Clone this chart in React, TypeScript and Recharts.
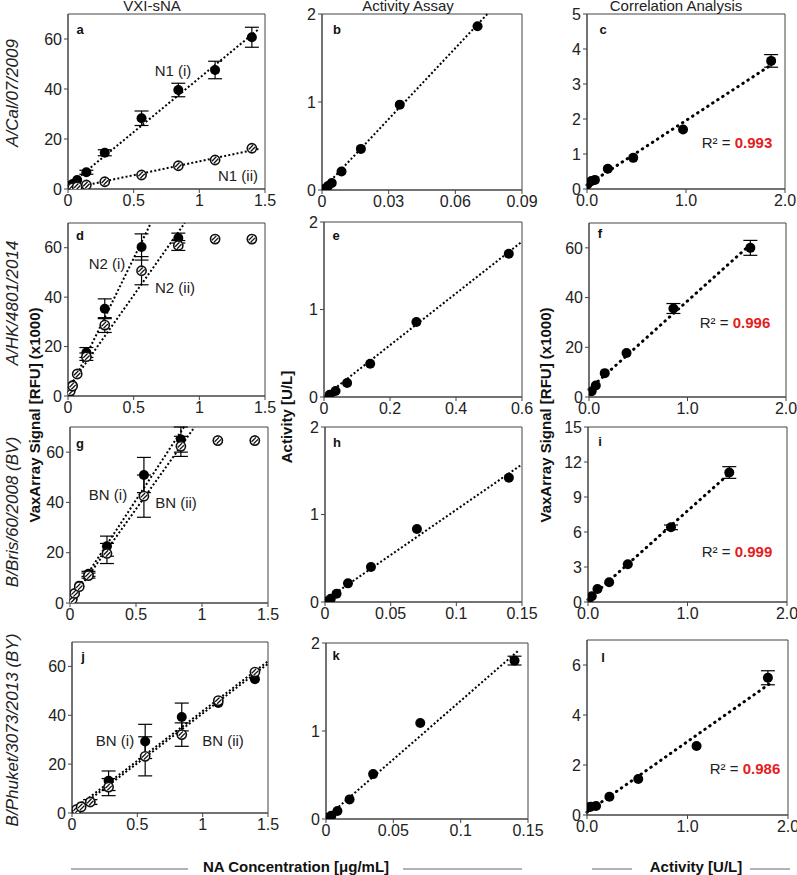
import React from "react";
import { ScatterChart, Scatter, XAxis, YAxis, ErrorBar, ReferenceLine, ReferenceArea } from "recharts";

const FONT = '"Liberation Sans", Arial, sans-serif';

// NA concentration series (ug/mL) used on the VXI-sNA panels
const concVxi = [0, 0.0175, 0.035, 0.07, 0.14, 0.28, 0.56, 0.84, 1.12, 1.4];

// A/Cal/07/2009
const calN1i = [0.3, 1.2, 2.0, 3.6, 6.7, 14.5, 28.3, 39.6, 47.6, 60.7];
const calN1iErr = [0, 0, 0, 0, 0.8, 1.2, 2.9, 2.7, 3.5, 4.0];
const calN1ii = [0, 0.3, 0.5, 0.9, 1.6, 2.9, 5.6, 9.3, 11.6, 16.3];
const calConcAct = [0.0005, 0.0014, 0.0027, 0.0044, 0.0088, 0.0175, 0.035, 0.07];
const calActivity = [0.005, 0.015, 0.045, 0.08, 0.21, 0.467, 0.97, 1.86];
const calSignal = [0.14, 0.18, 0.23, 0.26, 0.58, 0.89, 1.7, 3.66];
const calSignalErr = [0, 0, 0, 0, 0, 0, 0, 0.18];

// A/HK/4801/2014
const hkN2i = [0.3, 2.3, 4.3, 8.9, 17.6, 35.3, 60.3, 63.9, 63.5, 63.5];
const hkN2iErr = [0, 0, 0, 0, 2, 4, 5.3, 2, 0, 0];
const hkN2ii = [0.2, 2, 4, 8.9, 15.9, 28.7, 50.7, 60.9, 63.5, 63.5];
const hkN2iiErr = [0, 0, 0, 0, 1.5, 3, 5.7, 2, 0, 0];
const hkConcAct = [0.0175, 0.035, 0.07, 0.14, 0.28, 0.56];
const hkActivity = [0.027, 0.069, 0.16, 0.381, 0.857, 1.638];
const hkSignal = [2.3, 4.6, 9.6, 17.7, 35.6, 60.0];
const hkSignalErr = [0, 0, 0, 0, 2, 3];

// B/Bris/60/2008 (BV)
const brisBNi = [0.4, 1.7, 3.8, 6.9, 11.6, 22.6, 50.9, 65.0, 64.6, 64.6];
const brisBNiErr = [0, 0, 0, 0, 1, 4, 7, 5, 0, 0];
const brisBNii = [0.4, 1.5, 3.8, 6.5, 10.9, 19.7, 42.5, 62.3, 64.6, 64.6];
const brisBNiiErr = [0, 0, 0, 0, 1, 4, 8.4, 4, 0, 0];
const brisConcAct = [0.002, 0.0044, 0.0088, 0.0175, 0.035, 0.07, 0.14];
const brisActivity = [0.01, 0.038, 0.095, 0.213, 0.4, 0.834, 1.42];
const brisSignal = [0.29, 0.49, 1.12, 1.69, 3.24, 6.4, 11.1];
const brisSignalErr = [0, 0, 0, 0, 0, 0.2, 0.5];

// B/Phuket/3073/2013 (BY)
const phuBNi = [0.4, 0.9, 1.4, 2.7, 4.5, 13.2, 29.3, 39.3, 45, 54.8];
const phuBNiErr = [0, 0, 0, 0, 1, 4, 7, 5.7, 0, 0];
const phuBNii = [0.3, 0.8, 1.4, 2.5, 4.5, 10.6, 23.2, 32.1, 46, 57.7];
const phuBNiiErr = [0, 0, 0, 0, 1, 3.5, 8, 4.8, 0, 0];
const phuConcAct = [0.0013, 0.004, 0.0085, 0.0175, 0.035, 0.07, 0.14];
const phuActivity = [0.015, 0.038, 0.09, 0.223, 0.51, 1.09, 1.8];
const phuActivityErr = [0, 0, 0, 0, 0, 0, 0.05];
const phuSignal = [0.31, 0.33, 0.36, 0.733, 1.44, 2.76, 5.49];
const phuSignalErr = [0, 0, 0, 0, 0, 0, 0.28];

const r2Values = ["0.993", "0.996", "0.999", "0.986"];

const ticksVxi = [0, 0.5, 1, 1.5];
const ticksSignal = [0, 20, 40, 60];
const ticksCorrX = [0, 1, 2];

type Series = { x: number[]; y: number[]; err?: number[]; hatched?: boolean };
type Fit = { x: number[]; y: number[]; n: number; end: number };
type Panel = {
  rect: [number, number, number, number];
  xDomain: [number, number];
  xTicks: number[];
  yDomain: [number, number];
  yTicks: number[];
  xFmt?: (v: number) => string;
  series: Series[];
  fits: Fit[];
  thick?: boolean;
};

const fix1 = (v: number) => v.toFixed(1);

function linFit(xs: number[], ys: number[], n: number) {
  const X = xs.slice(0, n);
  const Y = ys.slice(0, n);
  const mx = X.reduce((a, b) => a + b, 0) / n;
  const my = Y.reduce((a, b) => a + b, 0) / n;
  let sxy = 0;
  let sxx = 0;
  X.forEach((x, i) => {
    sxy += (x - mx) * (Y[i] - my);
    sxx += (x - mx) * (x - mx);
  });
  const m = sxy / sxx;
  return { m, b: my - m * mx };
}

const panels: Panel[] = [
  {
    rect: [68, 14, 197, 175], xDomain: [0, 1.5], xTicks: ticksVxi, yDomain: [0, 70], yTicks: ticksSignal,
    series: [
      { x: concVxi, y: calN1i, err: calN1iErr },
      { x: concVxi, y: calN1ii, hatched: true },
    ],
    fits: [
      { x: concVxi, y: calN1i, n: 10, end: 1.45 },
      { x: concVxi, y: calN1ii, n: 10, end: 1.45 },
    ],
  },
  {
    rect: [322, 14, 200, 176], xDomain: [0, 0.09], xTicks: [0, 0.03, 0.06, 0.09], yDomain: [0, 2], yTicks: [0, 1, 2],
    series: [{ x: calConcAct, y: calActivity }],
    fits: [{ x: calConcAct, y: calActivity, n: 8, end: Infinity }],
  },
  {
    rect: [587, 14, 198, 175], xDomain: [0, 2], xTicks: ticksCorrX, yDomain: [0, 5], yTicks: [0, 1, 2, 3, 4, 5], xFmt: fix1, thick: true,
    series: [{ x: calActivity, y: calSignal, err: calSignalErr }],
    fits: [{ x: calActivity, y: calSignal, n: 8, end: 1.86 }],
  },
  {
    rect: [68, 223, 197, 173], xDomain: [0, 1.5], xTicks: ticksVxi, yDomain: [0, 70], yTicks: ticksSignal,
    series: [
      { x: concVxi, y: hkN2i, err: hkN2iErr },
      { x: concVxi, y: hkN2ii, err: hkN2iiErr, hatched: true },
    ],
    fits: [
      { x: concVxi, y: hkN2i, n: 7, end: Infinity },
      { x: concVxi, y: hkN2ii, n: 8, end: Infinity },
    ],
  },
  {
    rect: [324, 222, 198, 175], xDomain: [0, 0.6], xTicks: [0, 0.2, 0.4, 0.6], yDomain: [0, 2], yTicks: [0, 1, 2],
    series: [{ x: hkConcAct, y: hkActivity }],
    fits: [{ x: hkConcAct, y: hkActivity, n: 6, end: Infinity }],
  },
  {
    rect: [589, 223, 197, 174], xDomain: [0, 2], xTicks: ticksCorrX, yDomain: [0, 70], yTicks: ticksSignal, xFmt: fix1, thick: true,
    series: [{ x: hkActivity, y: hkSignal, err: hkSignalErr }],
    fits: [{ x: hkActivity, y: hkSignal, n: 6, end: 1.65 }],
  },
  {
    rect: [70, 427, 198, 176], xDomain: [0, 1.5], xTicks: ticksVxi, yDomain: [0, 70], yTicks: ticksSignal,
    series: [
      { x: concVxi, y: brisBNi, err: brisBNiErr },
      { x: concVxi, y: brisBNii, err: brisBNiiErr, hatched: true },
    ],
    fits: [
      { x: concVxi, y: brisBNi, n: 8, end: Infinity },
      { x: concVxi, y: brisBNii, n: 8, end: Infinity },
    ],
  },
  {
    rect: [325, 427, 197, 175], xDomain: [0, 0.15], xTicks: [0, 0.05, 0.1, 0.15], yDomain: [0, 2], yTicks: [0, 1, 2],
    series: [{ x: brisConcAct, y: brisActivity }],
    fits: [{ x: brisConcAct, y: brisActivity, n: 7, end: Infinity }],
  },
  {
    rect: [588, 427, 199, 175], xDomain: [0, 2], xTicks: ticksCorrX, yDomain: [0, 15], yTicks: [0, 3, 6, 9, 12, 15], xFmt: fix1, thick: true,
    series: [{ x: brisActivity, y: brisSignal, err: brisSignalErr }],
    fits: [{ x: brisActivity, y: brisSignal, n: 7, end: 1.43 }],
  },
  {
    rect: [72, 642, 196, 171], xDomain: [0, 1.5], xTicks: ticksVxi, yDomain: [0, 70], yTicks: ticksSignal,
    series: [
      { x: concVxi, y: phuBNi, err: phuBNiErr },
      { x: concVxi, y: phuBNii, err: phuBNiiErr, hatched: true },
    ],
    fits: [
      { x: concVxi, y: phuBNi, n: 10, end: Infinity },
      { x: concVxi, y: phuBNii, n: 10, end: Infinity },
    ],
  },
  {
    rect: [326, 643, 202, 176], xDomain: [0, 0.15], xTicks: [0, 0.05, 0.1, 0.15], yDomain: [0, 2], yTicks: [0, 1, 2],
    series: [{ x: phuConcAct, y: phuActivity, err: phuActivityErr }],
    fits: [{ x: phuConcAct, y: phuActivity, n: 7, end: 0.1425 }],
  },
  {
    rect: [587, 640, 201, 175], xDomain: [0, 2], xTicks: ticksCorrX, yDomain: [0, 7], yTicks: [0, 2, 4, 6], xFmt: fix1, thick: true,
    series: [{ x: phuActivity, y: phuSignal, err: phuSignalErr }],
    fits: [{ x: phuActivity, y: phuSignal, n: 7, end: 1.82 }],
  },
];

const FilledDot = (props: any) => {
  const { cx, cy } = props;
  if (cx == null || cy == null) return null;
  return <circle cx={cx} cy={cy} r={5} fill="#000" />;
};

const HatchDot = (props: any) => {
  const { cx, cy } = props;
  if (cx == null || cy == null) return null;
  return (
    <g>
      <circle cx={cx} cy={cy} r={4.6} fill="#fff" stroke="#111" strokeWidth={1.6} />
      <line x1={cx - 3.2} y1={cy + 1.2} x2={cx + 1.2} y2={cy - 3.2} stroke="#111" strokeWidth={1.3} />
      <line x1={cx - 1.2} y1={cy + 3.2} x2={cx + 3.2} y2={cy - 1.2} stroke="#111" strokeWidth={1.3} />
    </g>
  );
};

const ML = 45;
const MT = 10;
const MR = 22;
const MB = 30;

function PanelChart({ p }: { p: Panel }) {
  const [px, py, w, h] = p.rect;
  const tick = { fill: "#222", fontSize: 16, fontFamily: FONT };
  return (
    <div style={{ position: "absolute", left: px - ML, top: py - MT }}>
      <ScatterChart width={ML + w + MR} height={MT + h + MB} margin={{ top: MT, right: MR, bottom: 0, left: 0 }}>
        <XAxis
          type="number"
          dataKey="x"
          domain={p.xDomain}
          ticks={p.xTicks}
          interval={0}
          height={MB}
          tick={tick}
          tickFormatter={p.xFmt}
          tickSize={4}
          tickMargin={2}
          stroke="#444"
          allowDataOverflow
        />
        <YAxis
          type="number"
          dataKey="y"
          domain={p.yDomain}
          ticks={p.yTicks}
          interval={0}
          width={ML}
          tick={tick}
          tickSize={4}
          tickMargin={2}
          stroke="#444"
          allowDataOverflow
        />
        <ReferenceArea
          x1={p.xDomain[0]}
          x2={p.xDomain[1]}
          y1={p.yDomain[0]}
          y2={p.yDomain[1]}
          fill="none"
          stroke="#444"
          strokeWidth={1}
          fillOpacity={0}
        />
        {p.fits.map((f, i) => {
          const { m, b } = linFit(f.x, f.y, f.n);
          const x0 = 0;
          const x1 = Math.min(f.end, p.xDomain[1], (p.yDomain[1] - b) / m);
          return (
            <ReferenceLine
              key={"fit" + i}
              segment={[
                { x: x0, y: Math.max(b + m * x0, 0) },
                { x: x1, y: b + m * x1 },
              ]}
              stroke="#000"
              strokeWidth={p.thick ? 3 : 2}
              strokeDasharray={p.thick ? "0.5 5.5" : "2 2.2"}
              strokeLinecap={p.thick ? "round" : "butt"}
              ifOverflow="visible"
            />
          );
        })}
        {p.series.map((s, i) => {
          const rows = s.x.map((x, k) => ({ x, y: s.y[k], err: s.err ? s.err[k] : 0 }));
          return (
            <Scatter
              key={"s" + i}
              data={rows}
              shape={s.hatched ? HatchDot : FilledDot}
              isAnimationActive={false}
            >
              {s.err ? (
                <ErrorBar dataKey="err" direction="y" width={7} stroke="#000" strokeWidth={1.2} isAnimationActive={false} />
              ) : null}
            </Scatter>
          );
        })}
      </ScatterChart>
    </div>
  );
}

const panelLetters: [string, number, number][] = [
  ["a", 80, 29], ["b", 337, 29], ["c", 603, 29],
  ["d", 80, 235], ["e", 336, 235], ["f", 600, 233],
  ["g", 80, 443], ["h", 337, 442], ["i", 600, 441],
  ["j", 83, 656], ["k", 336, 655], ["l", 603, 657],
];

const seriesLabels: [string, number, number][] = [
  ["N1 (i)", 173, 70], ["N1 (ii)", 238, 175],
  ["N2 (i)", 107, 263], ["N2 (ii)", 175, 287],
  ["BN (i)", 108, 494], ["BN (ii)", 176, 502],
  ["BN (i)", 115, 740], ["BN (ii)", 223, 740],
];

const r2Pos: [number, number][] = [[737, 142], [735, 322], [737, 551], [745, 768]];

const rowLabels: [string, number][] = [
  ["A/Cal/07/2009", 93],
  ["A/HK/4801/2014", 303],
  ["B/Bris/60/2008 (BV)", 512],
  ["B/Phuket/3073/2013 (BY)", 730],
];

export default function App() {
  return (
    <div style={{ position: "absolute", left: 0, top: 0, width: 797, height: 875, background: "#fff", overflow: "hidden" }}>
      {panels.map((p, i) => (
        <PanelChart key={i} p={p} />
      ))}
      <svg width={797} height={875} style={{ position: "absolute", left: 0, top: 0, pointerEvents: "none" }} fontFamily={FONT}>
        <text x={152} y={11} textAnchor="middle" fontSize={15} fill="#222">VXI-sNA</text>
        <text x={408} y={11} textAnchor="middle" fontSize={15} fill="#222">Activity Assay</text>
        <text x={676} y={11} textAnchor="middle" fontSize={15} fill="#222">Correlation Analysis</text>

        {rowLabels.map(([t, y]) => (
          <text key={t} x={0} y={0} transform={`translate(18 ${y}) rotate(-90)`} textAnchor="middle" fontSize={17} fontStyle="italic" fill="#222">
            {t}
          </text>
        ))}

        <text transform="translate(40 415) rotate(-90)" textAnchor="middle" fontSize={15} fontWeight="bold" fill="#111">
          VaxArray Signal [RFU] (x1000)
        </text>
        <text transform="translate(292 417) rotate(-90)" textAnchor="middle" fontSize={15} fontWeight="bold" fill="#111">
          Activity [U/L]
        </text>
        <text transform="translate(551 415) rotate(-90)" textAnchor="middle" fontSize={15} fontWeight="bold" fill="#111">
          VaxArray Signal [RFU] (x1000)
        </text>

        <line x1={71} y1={869} x2={188} y2={869} stroke="#666" strokeWidth={1} />
        <text x={296} y={872} textAnchor="middle" fontSize={15} fontWeight="bold" fill="#111">NA Concentration [μg/mL]</text>
        <line x1={403} y1={869} x2={522} y2={869} stroke="#666" strokeWidth={1} />

        <line x1={592} y1={869} x2={632} y2={869} stroke="#666" strokeWidth={1} />
        <text x={696} y={872} textAnchor="middle" fontSize={15} fontWeight="bold" fill="#111">Activity [U/L]</text>
        <line x1={750} y1={869} x2={790} y2={869} stroke="#666" strokeWidth={1} />

        {panelLetters.map(([t, x, y]) => (
          <text key={t} x={x} y={y} textAnchor="middle" dominantBaseline="central" fontSize={13} fontWeight="bold" fill="#111">
            {t}
          </text>
        ))}

        {seriesLabels.map(([t, x, y], i) => (
          <text key={i} x={x} y={y} textAnchor="middle" dominantBaseline="central" fontSize={15} fill="#222">
            {t}
          </text>
        ))}

        {r2Pos.map(([x, y], i) => (
          <text key={i} x={x} y={y} textAnchor="middle" dominantBaseline="central" fontSize={15} fill="#222">
            R² = <tspan fontWeight="bold" fill="#e3201b">{r2Values[i]}</tspan>
          </text>
        ))}
      </svg>
    </div>
  );
}
